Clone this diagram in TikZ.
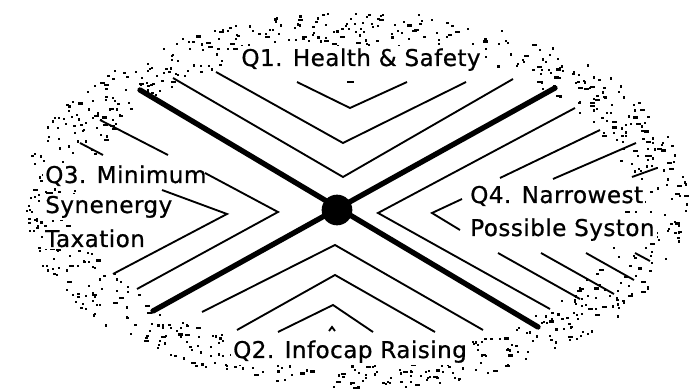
\documentclass[tikz,border=0pt]{standalone}
\usepackage{fontspec}
\newfontfamily\lblfont[LetterSpace=2,FakeBold=0.8]{DejaVu Sans}
\begin{document}
\begin{tikzpicture}[x=0.75pt,y=-0.75pt,
  chev/.style={line width=1.4pt,line join=miter,line cap=butt},
  axisline/.style={line width=4pt,line cap=round},
  lbl/.style={font=\lblfont\fontsize{17.3}{24}\selectfont,fill=white,inner sep=1.5pt}]
% canvas
\fill[white] (0,0) rectangle (693,391);
\useasboundingbox (0,0) rectangle (693,391);

% stippled elliptical rim
\pgfmathsetseed{4217}
\foreach \k in {1,...,900}{
  \pgfmathsetmacro{\ang}{360*rnd}
  \pgfmathsetmacro{\rad}{sqrt(0.66+0.34*rnd)}
  \pgfmathsetmacro{\px}{354+334*\rad*cos(\ang)}
  \pgfmathsetmacro{\py}{199+189*\rad*sin(\ang)}
  \pgfmathsetmacro{\wd}{rnd<0.85 ? 2.2 : 5}
  \fill[black] (\px,\py) rectangle ++(\wd,2.2);
}

% quadrant labels
\node[lbl,anchor=base] (q1) at (361,66) {Q1. Health \& Safety};
\node[lbl,anchor=base] (q2) at (350,358) {Q2. Infocap Raising};
\node[lbl,anchor=base west] (q3a) at (43,183) {Q3. Minimum};
\node[lbl,anchor=base west] (q3b) at (43,213) {Synenergy};
\node[lbl,anchor=base west] (q3c) at (43,247) {Taxation};
\node[lbl,anchor=base west] (q4a) at (468,203) {Q4. Narrowest};
\node[lbl,anchor=base west] (q4b) at (468,236) {Possible Syston};

% Q1 chevrons (opening upward)
\draw[chev] (347,82) -- (354,82);
\draw[chev] (297,82) -- (350,108) -- (407,82);
\draw[chev] (216,72) -- (343,143) -- (466,82);
\draw[chev] (173,78) -- (343,177) -- (513,79);

% Q2 chevrons (opening downward)
\draw[chev] (329,331) -- (332,327) -- (335,331);
\draw[chev] (278,332) -- (333,305) -- (373,332);
\draw[chev] (237,330) -- (335,275) -- (435,332);
\draw[chev] (202,312) -- (335,245) -- (483,330);

% Q3 chevrons (opening left)
\draw[chev] (80,143) -- (103,155);
\draw[chev] (100,120) -- (168,155);
\draw[chev] (162,190) -- (227,214) -- (113,274);
\draw[chev] (205,173) -- (278,212) -- (137,289);

% Q4 chevrons (opening right)
\draw[chev] (462,199) -- (432,213) -- (460,230);
\draw[chev] (575,108) -- (378,213) -- (550,309);
\draw[chev] (500,178) -- (600,130);
\draw[chev] (553,179) -- (636,143);
\draw[chev] (632,177) -- (657,168);
\draw[chev] (498,253) -- (580,299);
\draw[chev] (541,253) -- (614,294);
\draw[chev] (586,253) -- (634,280);
\draw[chev] (635,253) -- (650,261);

% the two axes and the hub
\coordinate (nw) at (140,90);
\coordinate (se) at (538,327);
\coordinate (ne) at (555,88);
\coordinate (sw) at (153,311);
\coordinate (hub) at (337,210);
\draw[axisline] (nw) -- (se);
\draw[axisline] (ne) -- (sw);
\fill[black] (hub) circle[radius=11.5pt];
\end{tikzpicture}
\end{document}
